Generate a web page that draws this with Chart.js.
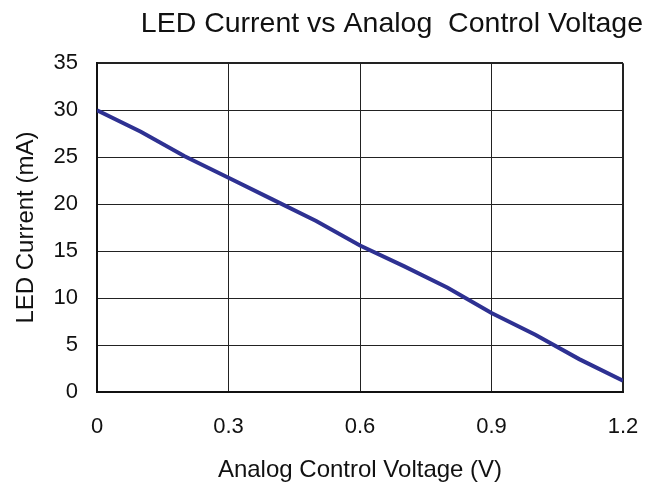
<!DOCTYPE html>
<html>
<head>
<meta charset="utf-8">
<script src="https://cdn.jsdelivr.net/npm/chart.js@4"></script>
<style>
  html, body { margin: 0; padding: 0; background: #fff; }
  #wrap { width: 657px; height: 486px; }
</style>
</head>
<body>
<div id="wrap"><canvas id="chart" width="657" height="486"></canvas></div>
<script>
// Analog control voltage (V) and LED current (mA)
const voltage = [0, 0.1, 0.2, 0.3, 0.4, 0.5, 0.6, 0.7, 0.8, 0.9, 1.0, 1.1, 1.2];
const current = [30, 27.7, 25.1, 22.8, 20.5, 18.2, 15.6, 13.4, 11.1, 8.4, 6.1, 3.5, 1.2];
const xTickLabels = ['0', '0.3', '0.6', '0.9', '1.2'];

const points = voltage.map((v, i) => ({ x: v, y: current[i] }));
const font = 'Liberation Sans, Arial, sans-serif';

// edge gridlines double as the frame
const edgeWidth = (lo, hi) => ctx => {
    const v = ctx.tick && ctx.tick.value;
    return (Math.abs(v - lo) < 1e-9 || Math.abs(v - hi) < 1e-9) ? 2 : 1;
};

new Chart(document.getElementById('chart'), {
    type: 'line',
    data: {
        datasets: [{
            data: points,
            borderColor: '#2E3192',
            borderWidth: 4,
            pointRadius: 0,
            tension: 0,
            fill: false
        }]
    },
    options: {
        responsive: false,
        animation: false,
        layout: { padding: { left: 0, right: 14, top: 0, bottom: 0 } },
        plugins: {
            legend: { display: false },
            tooltip: { enabled: false },
            title: {
                display: true,
                text: 'LED Current vs Analog  Control Voltage',
                align: 'end',
                color: '#111',
                font: { family: font, size: 28.5, weight: 'normal' },
                padding: { top: 7, bottom: 22 }
            }
        },
        scales: {
            x: {
                type: 'linear',
                min: 0,
                max: 1.2,
                afterFit: scale => {
                    scale.height = 94;
                    scale.paddingRight = 34;
                    scale.paddingLeft = 0;
                },
                ticks: {
                    stepSize: 0.3,
                    color: '#111',
                    font: { family: font, size: 22 },
                    padding: 22,
                    maxRotation: 0,
                    callback: (v, i) => xTickLabels[i]
                },
                grid: {
                    color: '#222',
                    lineWidth: edgeWidth(0, 1.2),
                    drawTicks: false
                },
                border: { display: true, color: '#111', width: 2 },
                title: {
                    display: true,
                    text: 'Analog Control Voltage (V)',
                    color: '#111',
                    font: { family: font, size: 24 },
                    padding: { top: 0, bottom: 1 }
                }
            },
            y: {
                min: 0,
                max: 35,
                afterFit: scale => { scale.width = 97; },
                ticks: {
                    stepSize: 5,
                    color: '#111',
                    font: { family: font, size: 22 },
                    padding: 19
                },
                grid: {
                    color: '#222',
                    lineWidth: edgeWidth(0, 35),
                    drawTicks: false
                },
                border: { display: true, color: '#111', width: 2 },
                title: {
                    display: true,
                    text: 'LED Current (mA)',
                    color: '#111',
                    font: { family: font, size: 24 },
                    padding: { top: 12, bottom: 0 }
                }
            }
        }
    }
});
</script>
</body>
</html>
